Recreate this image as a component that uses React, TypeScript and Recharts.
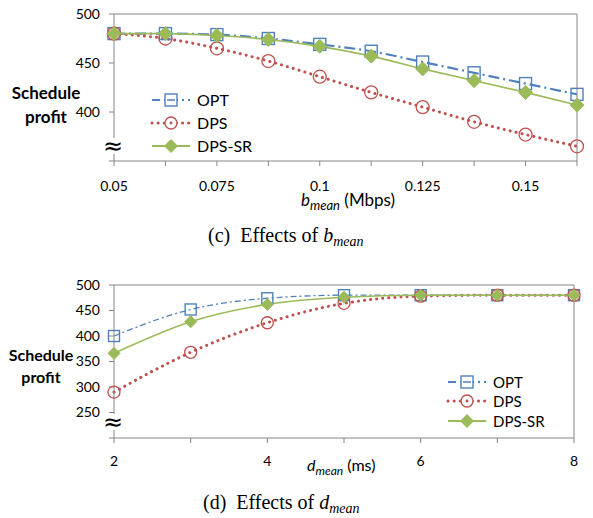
import React from "react"
import { LineChart, Line, XAxis, YAxis, ReferenceLine, Legend } from "recharts"

// (c) effects of b_mean
const bMean = ["0.05", "0.0625", "0.075", "0.0875", "0.1", "0.1125", "0.125", "0.1375", "0.15", "0.1625"]
const bOpt = [480, 480, 479, 475, 469, 462, 451, 440, 429, 418]
const bDps = [480, 475, 465, 452, 436, 420, 405, 390, 377, 365]
const bDpsSr = [480, 480, 478, 474, 467, 457, 444, 432, 420, 407]
const bTicks = [350, 400, 450, 500]

// (d) effects of d_mean
const dMean = ["2", "3", "4", "5", "6", "7", "8"]
const dOpt = [400, 452, 474, 480, 480, 480, 480]
const dDps = [290, 368, 426, 464, 478, 480, 480]
const dDpsSr = [366, 428, 462, 476, 480, 480, 480]
const dTicks = [200, 250, 300, 350, 400, 450, 500]

const BLUE = "#4F81BD"
const RED = "#C0504D"
const GREEN = "#9BBB59"
const AXIS = "#868686"
const FONT = "Lato, 'Open Sans', sans-serif"
const SERIF = "'Liberation Serif', 'DejaVu Serif', serif"

const toRows = (cats: string[], opt: number[], dps: number[], sr: number[]) =>
  cats.map((x, i) => ({ x, opt: opt[i], dps: dps[i], sr: sr[i] }))

const squareDot = (size: number) => (props: any) => {
  const { cx, cy, index } = props
  if (cx == null || cy == null) return <g key={`sq-${index}`} />
  return (
    <rect
      key={`sq-${index}`}
      x={cx - size / 2}
      y={cy - size / 2}
      width={size}
      height={size}
      fill="none"
      stroke={BLUE}
      strokeWidth={1.4}
    />
  )
}

const diamondDot = (size: number) => (props: any) => {
  const { cx, cy, index } = props
  if (cx == null || cy == null) return <g key={`dm-${index}`} />
  const h = size / 2
  return (
    <polygon
      key={`dm-${index}`}
      points={`${cx},${cy - h} ${cx + h},${cy} ${cx},${cy + h} ${cx - h},${cy}`}
      fill={GREEN}
      stroke={GREEN}
    />
  )
}

const legendContent = (fontSize: number, rowH: number) => () => (
  <div style={{ fontFamily: FONT, fontSize, color: "#000", textAlign: "left" }}>
    {["OPT", "DPS", "DPS-SR"].map((name) => (
      <div key={name} style={{ display: "flex", alignItems: "center", height: rowH }}>
        <svg width={42} height={16} style={{ marginRight: 5 }}>
          {name === "OPT" && (
            <g>
              <line x1={2} y1={8} x2={40} y2={8} stroke={BLUE} strokeWidth={2} strokeDasharray="8 4 2 4" />
              <rect x={15} y={2} width={12} height={12} fill="#fff" stroke={BLUE} strokeWidth={1.4} />
              <line x1={17} y1={8} x2={25} y2={8} stroke={BLUE} strokeWidth={1.5} />
            </g>
          )}
          {name === "DPS" && (
            <g>
              <line x1={2} y1={8} x2={40} y2={8} stroke={RED} strokeWidth={3} strokeDasharray="0.1 6" strokeLinecap="round" />
              <circle cx={21} cy={8} r={6} fill="#fff" stroke={RED} strokeWidth={1.3} />
              <circle cx={21} cy={8} r={1.4} fill={RED} />
            </g>
          )}
          {name === "DPS-SR" && (
            <g>
              <line x1={2} y1={8} x2={40} y2={8} stroke={GREEN} strokeWidth={1.8} />
              <polygon points="21,1 28,8 21,15 14,8" fill={GREEN} />
            </g>
          )}
        </svg>
        <span>{name}</span>
      </div>
    ))}
  </div>
)

interface PanelProps {
  data: { x: string; opt: number; dps: number; sr: number }[]
  ticks: number[]
  height: number
  right: number
  tickMargin: number
  legendLeft: number
  legendTop: number
  legendFont: number
  legendRow: number
  thin?: boolean
}

function Panel({ data, ticks, height, right, tickMargin, legendLeft, legendTop, legendFont, legendRow, thin }: PanelProps) {
  const tickStyle = { fontFamily: FONT, fontSize: 14, fill: "#000" }
  const last = data[data.length - 1].x
  return (
    <LineChart width={593} height={height} data={data} margin={{ top: 14, right, bottom: 9, left: 0 }}>
      <XAxis
        dataKey="x"
        type="category"
        interval={0}
        height={30}
        stroke={AXIS}
        tickSize={5}
        tickMargin={tickMargin}
        tick={tickStyle}
        tickFormatter={(v: string, i: number) => (i % 2 === 0 ? v : "")}
      />
      <YAxis
        type="number"
        width={114}
        domain={[ticks[0], ticks[ticks.length - 1]]}
        ticks={ticks}
        interval={0}
        stroke={AXIS}
        tickSize={5}
        tickMargin={9}
        tick={tickStyle}
        tickFormatter={(v: number) => (v === ticks[0] ? "" : String(v))}
      />
      <ReferenceLine y={ticks[ticks.length - 1]} stroke={AXIS} />
      <ReferenceLine x={last} stroke={AXIS} />
      <Legend
        layout="vertical"
        align="center"
        verticalAlign="middle"
        content={legendContent(legendFont, legendRow)}
        wrapperStyle={{ left: legendLeft, top: legendTop, width: "auto", margin: 0 }}
      />
      <Line
        name="OPT"
        type="monotone"
        dataKey="opt"
        stroke={BLUE}
        strokeWidth={thin ? 1.3 : 2.2}
        strokeDasharray={thin ? "6 3 2 3" : "11 4 2 4"}
        dot={squareDot(thin ? 11 : 12)}
        activeDot={false}
        isAnimationActive={false}
      />
      <Line
        name="DPS"
        type="monotone"
        dataKey="dps"
        stroke={RED}
        strokeWidth={3}
        strokeDasharray="0.1 6"
        strokeLinecap="round"
        dot={{ r: thin ? 6 : 6.5, fill: "none", stroke: RED, strokeWidth: 1.3, strokeDasharray: "" }}
        activeDot={false}
        isAnimationActive={false}
      />
      <Line
        name="DPS-SR"
        type="monotone"
        dataKey="sr"
        stroke={GREEN}
        strokeWidth={1.6}
        dot={diamondDot(thin ? 12 : 14)}
        activeDot={false}
        isAnimationActive={false}
      />
    </LineChart>
  )
}

const abs = (left: number, top: number, extra: React.CSSProperties = {}): React.CSSProperties => ({
  position: "absolute",
  left,
  top,
  whiteSpace: "nowrap",
  ...extra,
})

const Sub = ({ children, size }: { children: React.ReactNode; size: number }) => (
  <span style={{ fontSize: size, fontStyle: "italic", position: "relative", top: "0.3em" }}>{children}</span>
)

export default function App() {
  const yLabel = { fontFamily: FONT, fontSize: 17, fontWeight: 700, textAlign: "center" as const, lineHeight: "24px", width: 80 }
  const brk: React.CSSProperties = { fontFamily: "'DejaVu Sans', sans-serif", fontSize: 24, lineHeight: "16px", background: "#fff", width: 16, textAlign: "center" }
  return (
    <div style={{ position: "absolute", left: 0, top: 0, width: 593, height: 518, background: "#fff" }}>
      <div style={abs(0, 0)}>
        <Panel
          data={toRows(bMean, bOpt, bDps, bDpsSr)}
          ticks={bTicks}
          height={200}
          right={16}
          tickMargin={15}
          legendLeft={150}
          legendTop={88}
          legendFont={16}
          legendRow={23}
        />
      </div>
      <div style={abs(0, 271)}>
        <Panel
          data={toRows(dMean, dOpt, dDps, dDpsSr)}
          ticks={dTicks}
          height={206}
          right={19}
          tickMargin={13}
          legendLeft={446}
          legendTop={101}
          legendFont={15}
          legendRow={19.5}
          thin
        />
      </div>

      <div style={abs(6, 81, yLabel)}>Schedule<br />profit</div>
      <div style={abs(1, 344, { ...yLabel, fontSize: 16, lineHeight: "22px" })}>Schedule<br />profit</div>

      <div style={abs(103, 138, brk)}>≈</div>
      <div style={abs(103, 414, brk)}>≈</div>

      <div style={abs(301, 189, { fontFamily: FONT, fontSize: 17 })}>
        <i>b</i><Sub size={13}>mean</Sub> (Mbps)
      </div>
      <div style={abs(307, 455, { fontFamily: FONT, fontSize: 16 })}>
        <i>d</i><Sub size={12}>mean</Sub> (ms)
      </div>

      <div style={abs(208, 224, { fontFamily: SERIF, fontSize: 20 })}>
        (c)&nbsp; Effects of <i>b</i><Sub size={14}>mean</Sub>
      </div>
      <div style={abs(203, 491, { fontFamily: SERIF, fontSize: 20 })}>
        (d)&nbsp; Effects of <i>d</i><Sub size={14}>mean</Sub>
      </div>
    </div>
  )
}
